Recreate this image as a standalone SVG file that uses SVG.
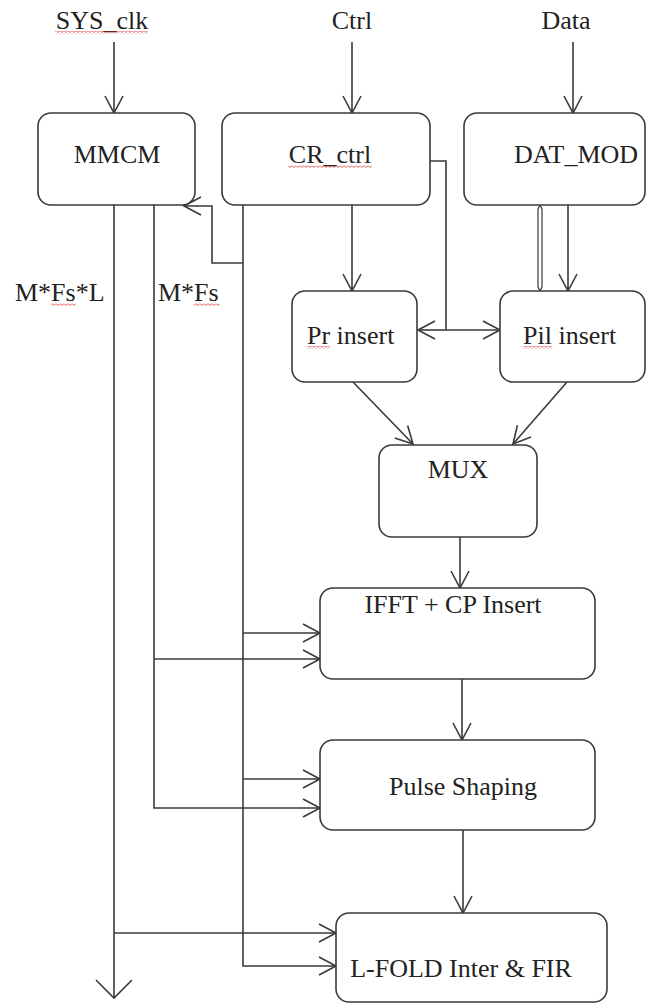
<svg xmlns="http://www.w3.org/2000/svg" width="648" height="1004" viewBox="0 0 648 1004">
<style>
.box{fill:#fff;stroke:#3a3a3a;stroke-width:1.6}
.t{font-family:'Liberation Serif','DejaVu Serif',serif;font-size:26px;fill:#222;text-anchor:middle}
.tl{font-family:'Liberation Serif','DejaVu Serif',serif;font-size:26px;fill:#222}
.c{fill:none;stroke:#3a3a3a;stroke-width:1.6}
.a{marker-end:url(#ah)}
.sq{fill:url(#squig)}
</style>
<defs>
<marker id="ah" markerUnits="userSpaceOnUse" markerWidth="24" markerHeight="24" viewBox="-20 -12 24 24" refX="0" refY="0" orient="auto-start-reverse">
<path d="M-17,-9 L0,0 L-17,9" fill="none" stroke="#3a3a3a" stroke-width="1.6"/>
</marker>
<pattern id="squig" patternUnits="userSpaceOnUse" width="4" height="3">
<path d="M0,0.5 L2,2.5 L4,0.5" fill="none" stroke="#d42020" stroke-width="0.8"/>
</pattern>
</defs>

<g id="labels">
<text class="t" x="102" y="29">SYS_clk</text>
<rect class="sq" x="55" y="31" width="93" height="3"/>
<text class="t" x="352" y="29">Ctrl</text>
<text class="t" x="566" y="29">Data</text>
<text class="tl" x="15" y="301">M*Fs*L</text>
<rect class="sq" x="51" y="303" width="25" height="3"/>
<text class="tl" x="158" y="301">M*Fs</text>
<rect class="sq" x="194" y="303" width="26" height="3"/>
</g>

<g id="connectors">
<line class="c a" x1="114" y1="42" x2="114" y2="113"/>
<line class="c a" x1="352" y1="42" x2="352" y2="113"/>
<line class="c a" x1="573" y1="42" x2="573" y2="113"/>
<line class="c" x1="114" y1="205" x2="114" y2="998"/>
<path d="M96,980 L114,998 L132,980" fill="none" stroke="#3a3a3a" stroke-width="1.6"/>
<line class="c a" x1="114" y1="933" x2="336" y2="933"/>
<polyline class="c a" points="154,205 154,808 320,808"/>
<line class="c a" x1="154" y1="659" x2="320" y2="659"/>
<polyline class="c a" points="243,205 243,966 336,966"/>
<line class="c a" x1="243" y1="633" x2="320" y2="633"/>
<line class="c a" x1="243" y1="779" x2="320" y2="779"/>
<polyline class="c a" points="243,263 212,263 212,206 184,206"/>
<line class="c a" x1="352" y1="205" x2="352" y2="291"/>
<polyline class="c" points="430,161 446,161 446,330"/>
<line class="c a" x1="446" y1="330" x2="418" y2="330"/>
<line class="c a" x1="446" y1="330" x2="500" y2="330"/>
<path d="M538,209 L540,205 L542,209 L542,287 L540,291 L538,287 Z" fill="#fff" stroke="#3a3a3a" stroke-width="1.2"/>
<line class="c a" x1="568" y1="205" x2="568" y2="291"/>
<line class="c a" x1="353" y1="382" x2="413" y2="444"/>
<line class="c a" x1="567" y1="382" x2="513" y2="444"/>
<line class="c a" x1="460" y1="537" x2="460" y2="588"/>
<line class="c a" x1="462" y1="679" x2="462" y2="740"/>
<line class="c a" x1="463" y1="830" x2="463" y2="913"/>
</g>

<g id="mmcm">
<rect class="box" x="38" y="113" width="157" height="92" rx="13"/>
<text class="t" x="117" y="163">MMCM</text>
</g>
<g id="cr_ctrl">
<rect class="box" x="222" y="113" width="208" height="92" rx="13"/>
<text class="t" x="330" y="163">CR_ctrl</text>
<rect class="sq" x="288" y="165" width="84" height="3"/>
</g>
<g id="dat_mod">
<rect class="box" x="464" y="113" width="181" height="92" rx="13"/>
<text class="t" x="576" y="163">DAT_MOD</text>
</g>
<g id="pr_insert">
<rect class="box" x="292" y="291" width="125" height="91" rx="13"/>
<text class="tl" x="307" y="344">Pr insert</text>
<rect class="sq" x="307" y="346" width="23" height="3"/>
</g>
<g id="pil_insert">
<rect class="box" x="500" y="291" width="145" height="91" rx="13"/>
<text class="tl" x="523" y="344">Pil insert</text>
<rect class="sq" x="523" y="346" width="29" height="3"/>
</g>
<g id="mux">
<rect class="box" x="379" y="445" width="158" height="92" rx="13"/>
<text class="t" x="458" y="478">MUX</text>
</g>
<g id="ifft">
<rect class="box" x="320" y="588" width="275" height="91" rx="13"/>
<text class="t" x="453" y="613">IFFT + CP Insert</text>
</g>
<g id="pulse">
<rect class="box" x="320" y="740" width="275" height="90" rx="13"/>
<text class="t" x="463" y="795">Pulse Shaping</text>
</g>
<g id="lfold">
<rect class="box" x="336" y="913" width="271" height="89" rx="13"/>
<text class="t" x="461" y="977">L-FOLD Inter &amp; FIR</text>
</g>
</svg>
